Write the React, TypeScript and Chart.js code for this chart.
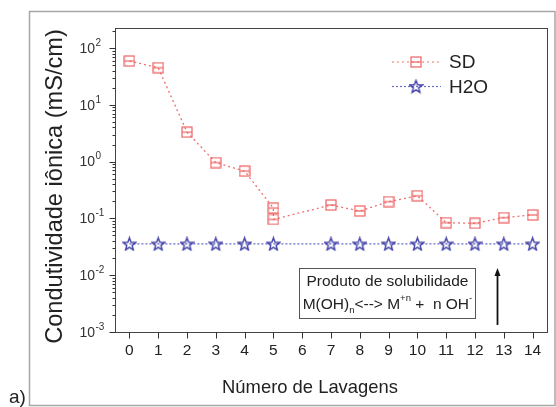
import { useEffect, useRef } from "react";
import { Chart, registerables } from "chart.js";

Chart.register(...registerables);

// ---- data ----
const sdLavagens = [0, 1, 2, 3, 4, 5, 5, 7, 8, 9, 10, 11, 12, 13, 14];
const sdValues = [59, 45, 3.3, 0.96, 0.68, 0.152, 0.096, 0.172, 0.135, 0.197, 0.25, 0.084, 0.082, 0.103, 0.115];
const h2oLavagens = [0, 1, 2, 3, 4, 5, 7, 8, 9, 10, 11, 12, 13, 14];
const h2oValues = [0.0355, 0.0355, 0.0355, 0.0355, 0.0355, 0.0355, 0.0355, 0.0355, 0.0355, 0.0355, 0.0355, 0.0355, 0.0355, 0.0355];
const xTickValues = [0, 1, 2, 3, 4, 5, 6, 7, 8, 9, 10, 11, 12, 13, 14];
const xTickLabels = ["0", "1", "2", "3", "4", "5", "6", "7", "8", "9", "10", "11", "12", "13", "14"];
const yDecadeExponents = [-3, -2, -1, 0, 1, 2];
const yExponentLabels = ["-3", "-2", "-1", "0", "1", "2"];
const seriesNames = ["SD", "H2O"];
const yTitle = "Condutividade iônica (mS/cm)";
const xTitle = "Número de Lavagens";
const noteLine1 = "Produto de solubilidade";
const panelLabel = "a)";

const RED = "#ef6262";
const RED_LINE = "#f07070";
const BLUE = "#3e3ea6";
const BLUE_LINE = "#6a6ac8";
const FONT = '"Liberation Sans", Arial, Helvetica, sans-serif';

function makeSquare(color: string) {
  const c = document.createElement("canvas");
  c.width = 12;
  c.height = 12;
  const g = c.getContext("2d")!;
  g.strokeStyle = color;
  g.lineWidth = 1.2;
  g.strokeRect(1, 1, 10, 10);
  g.beginPath();
  g.moveTo(1, 6);
  g.lineTo(11, 6);
  g.stroke();
  return c;
}

function makeStar(color: string) {
  const c = document.createElement("canvas");
  c.width = 15;
  c.height = 15;
  const g = c.getContext("2d")!;
  const cx = 7.5, cy = 8, ro = 6.6, ri = 2.8;
  g.strokeStyle = color;
  g.lineWidth = 1.4;
  g.beginPath();
  for (let i = 0; i < 10; i++) {
    const r = i % 2 === 0 ? ro : ri;
    const a = -Math.PI / 2 + (i * Math.PI) / 5;
    const px = cx + r * Math.cos(a);
    const py = cy + r * Math.sin(a);
    if (i === 0) g.moveTo(px, py);
    else g.lineTo(px, py);
  }
  g.closePath();
  g.stroke();
  return c;
}

export default function App() {
  const ref = useRef<HTMLCanvasElement | null>(null);

  useEffect(() => {
    if (!ref.current) return;
    const sq = makeSquare(RED);
    const st = makeStar(BLUE);

    const decor = {
      id: "decor",
      beforeDraw(chart: any) {
        const ctx = chart.ctx;
        ctx.save();
        ctx.fillStyle = "#ffffff";
        ctx.fillRect(0, 0, chart.width, chart.height);
        ctx.restore();
      },
      afterDraw(chart: any) {
        const ctx = chart.ctx;
        const ca = chart.chartArea;
        const xs = chart.scales.x;
        const ys = chart.scales.y;
        ctx.save();

        // outer frame
        ctx.strokeStyle = "#a6a6a6";
        ctx.lineWidth = 1.5;
        ctx.strokeRect(29.5, 11.5, 525.5, 394);

        // plot frame
        ctx.strokeStyle = "#444";
        ctx.lineWidth = 1;
        ctx.strokeRect(Math.round(ca.left) + 0.5, Math.round(ca.top) + 0.5, Math.round(ca.right - ca.left), Math.round(ca.bottom - ca.top));

        // y ticks
        ctx.strokeStyle = "#333";
        ctx.beginPath();
        const L = Math.round(ca.left) + 0.5;
        for (const e of yDecadeExponents) {
          for (let m = 1; m <= 9; m++) {
            const v = m * Math.pow(10, e);
            if (v > ys.max || v < ys.min) continue;
            const y = Math.round(ys.getPixelForValue(v)) + 0.5;
            const len = m === 1 ? 6 : 3;
            ctx.moveTo(L - len, y);
            ctx.lineTo(L, y);
          }
        }
        ctx.stroke();

        // x ticks
        const B = Math.round(ca.bottom) + 0.5;
        ctx.beginPath();
        for (const v of xTickValues) {
          const x = Math.round(xs.getPixelForValue(v)) + 0.5;
          ctx.moveTo(x, B);
          ctx.lineTo(x, B + 6);
        }
        ctx.stroke();

        // x tick labels
        ctx.fillStyle = "#222";
        ctx.font = `15.5px ${FONT}`;
        ctx.textAlign = "center";
        ctx.textBaseline = "middle";
        xTickValues.forEach((v, i) => {
          ctx.fillText(xTickLabels[i], xs.getPixelForValue(v), 351);
        });

        // y tick labels 10^n
        ctx.fillStyle = "#333";
        yDecadeExponents.forEach((e, i) => {
          const y = ys.getPixelForValue(Math.pow(10, e));
          ctx.font = `14px ${FONT}`;
          ctx.textAlign = "right";
          ctx.textBaseline = "middle";
          ctx.fillText("10", 95, y + 1);
          ctx.font = `10px ${FONT}`;
          ctx.textAlign = "left";
          ctx.fillText(yExponentLabels[i], 95.5, y - 5);
        });

        // axis titles
        ctx.fillStyle = "#222";
        ctx.font = `18.4px ${FONT}`;
        ctx.textAlign = "center";
        ctx.textBaseline = "middle";
        ctx.fillText(xTitle, 310, 388);

        ctx.save();
        ctx.translate(55, 186.5);
        ctx.rotate(-Math.PI / 2);
        ctx.font = `23.6px ${FONT}`;
        ctx.fillText(yTitle, 0, 0);
        ctx.restore();

        // legend
        const legendRows = [
          { y: 62, color: RED_LINE, img: sq, dash: [2, 3] },
          { y: 86.5, color: BLUE_LINE, img: st, dash: [2, 2] },
        ];
        legendRows.forEach((r, i) => {
          ctx.strokeStyle = r.color;
          ctx.lineWidth = 1.2;
          ctx.setLineDash(r.dash);
          ctx.beginPath();
          ctx.moveTo(392, r.y);
          ctx.lineTo(441, r.y);
          ctx.stroke();
          ctx.setLineDash([]);
          ctx.drawImage(r.img, 416 - r.img.width / 2, r.y - r.img.height / 2);
          ctx.fillStyle = "#222";
          ctx.font = `19px ${FONT}`;
          ctx.textAlign = "left";
          ctx.textBaseline = "middle";
          ctx.fillText(seriesNames[i], 449, r.y + 1);
        });

        // annotation box
        const bx0 = xs.getPixelForValue(5.9);
        const bx1 = xs.getPixelForValue(12.02);
        const by0 = ys.getPixelForValue(0.0134);
        const by1 = ys.getPixelForValue(0.00176);
        ctx.strokeStyle = "#555";
        ctx.lineWidth = 1;
        ctx.strokeRect(Math.round(bx0) + 0.5, Math.round(by0) + 0.5, Math.round(bx1 - bx0), Math.round(by1 - by0));
        const cx = (bx0 + bx1) / 2;
        ctx.fillStyle = "#222";
        ctx.font = `15.5px ${FONT}`;
        ctx.textAlign = "center";
        ctx.textBaseline = "middle";
        ctx.fillText(noteLine1, cx, by0 + 13.5);

        const parts: { t: string; size: number; dy: number }[] = [
          { t: "M(OH)", size: 15.5, dy: 0 },
          { t: "n", size: 9.5, dy: 6 },
          { t: "<--> M", size: 15.5, dy: 0 },
          { t: "+n", size: 9.5, dy: -6 },
          { t: " +  n OH", size: 15.5, dy: 0 },
          { t: "-", size: 9.5, dy: -6 },
        ];
        let total = 0;
        for (const p of parts) {
          ctx.font = `${p.size}px ${FONT}`;
          total += ctx.measureText(p.t).width;
        }
        let px = cx - total / 2;
        const ly = by0 + 36.5;
        ctx.textAlign = "left";
        for (const p of parts) {
          ctx.font = `${p.size}px ${FONT}`;
          ctx.fillText(p.t, px, ly + p.dy);
          px += ctx.measureText(p.t).width;
        }

        // arrow
        const ax = Math.round(xs.getPixelForValue(12.78)) + 0.5;
        const ayTip = ys.getPixelForValue(0.0134);
        const ayBot = ys.getPixelForValue(0.00133);
        ctx.strokeStyle = "#111";
        ctx.fillStyle = "#111";
        ctx.lineWidth = 1.8;
        ctx.beginPath();
        ctx.moveTo(ax, ayBot);
        ctx.lineTo(ax, ayTip + 6);
        ctx.stroke();
        ctx.beginPath();
        ctx.moveTo(ax, ayTip);
        ctx.lineTo(ax - 3, ayTip + 8);
        ctx.lineTo(ax + 3, ayTip + 8);
        ctx.closePath();
        ctx.fill();

        // panel label
        ctx.fillStyle = "#222";
        ctx.font = `19px ${FONT}`;
        ctx.textAlign = "left";
        ctx.textBaseline = "alphabetic";
        ctx.fillText(panelLabel, 9, 403);

        ctx.restore();
      },
    };

    const chart = new Chart(ref.current, {
      type: "line",
      data: {
        datasets: [
          {
            label: seriesNames[0],
            data: sdLavagens.map((x, i) => ({ x, y: sdValues[i] })),
            borderColor: RED_LINE,
            backgroundColor: RED,
            borderDash: [2, 3],
            borderWidth: 1.3,
            pointStyle: sq as any,
            pointRadius: 6,
            tension: 0,
            fill: false,
          },
          {
            label: seriesNames[1],
            data: h2oLavagens.map((x, i) => ({ x, y: h2oValues[i] })),
            borderColor: BLUE_LINE,
            backgroundColor: BLUE,
            borderDash: [2, 2],
            borderWidth: 1.2,
            pointStyle: st as any,
            pointRadius: 7,
            tension: 0,
            fill: false,
          },
        ],
      },
      options: {
        responsive: false,
        animation: false,
        layout: { padding: { left: 0, top: 28, right: 9, bottom: 0 } },
        plugins: { legend: { display: false }, tooltip: { enabled: false }, title: { display: false } },
        scales: {
          x: {
            type: "linear",
            min: -0.5,
            max: 14.5,
            ticks: { display: false },
            grid: { display: false },
            border: { display: false },
            afterFit: (s: any) => {
              s.height = 75;
            },
          },
          y: {
            type: "logarithmic",
            min: 1e-3,
            max: 225,
            ticks: { display: false },
            grid: { display: false },
            border: { display: false },
            afterFit: (s: any) => {
              s.width = 115;
            },
          },
        },
      },
      plugins: [decor],
    } as any);

    return () => chart.destroy();
  }, []);

  return (
    <div style={{ position: "fixed", left: 0, top: 0, width: 556, height: 407 }}>
      <canvas ref={ref} width={556} height={407} style={{ display: "block", width: 556, height: 407 }} />
    </div>
  );
}
